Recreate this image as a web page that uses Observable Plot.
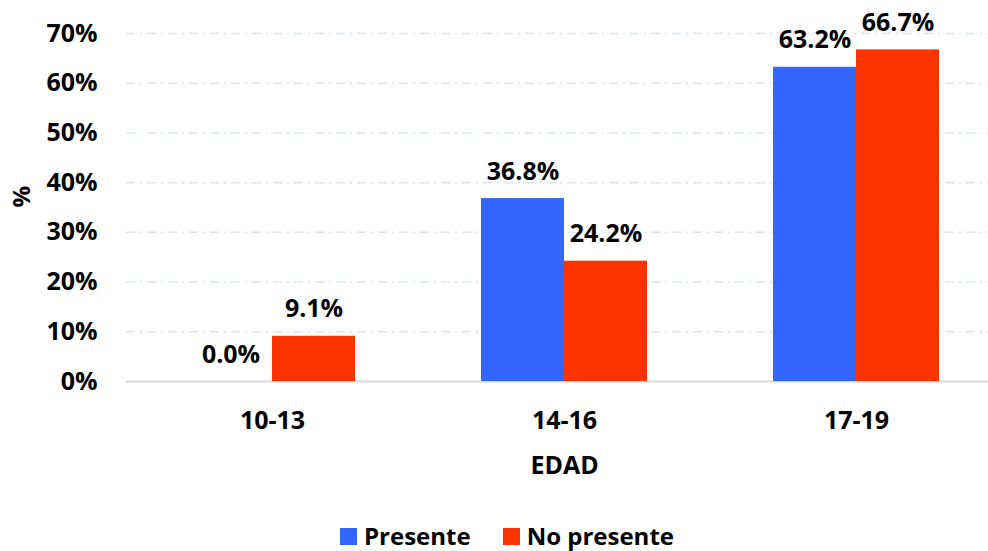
<!DOCTYPE html>
<html>
<head>
<meta charset="utf-8">
<script src="https://cdn.jsdelivr.net/npm/d3@7"></script>
<script src="https://cdn.jsdelivr.net/npm/@observablehq/plot@0.6"></script>
<style>
  body { margin: 0; background: #fff; font-family: "Open Sans", sans-serif; }
  #chart { width: 988px; height: 551px; position: relative; overflow: hidden; }
  #chart svg { position: absolute; left: 0; top: 0; background: transparent; }
  .legend { position: absolute; top: 521px; left: 340px; display: flex; align-items: center; font-weight: 700; font-size: 24px; color: #000; line-height: 30px; }
  .legend .sw { width: 17px; height: 17px; display: inline-block; margin-right: 7px; }
  .legend .item { display: flex; align-items: center; margin-right: 32px; }
</style>
</head>
<body>
<div id="chart"></div>
<script>
const categories = ["10-13", "14-16", "17-19"];
const series = ["Presente", "No presente"];
const presente = [0.0, 36.8, 63.2];
const noPresente = [9.1, 24.2, 66.7];
const yTicks = [0, 10, 20, 30, 40, 50, 60, 70];
const colors = ["#3366FF", "#FF3300"];

const data = [];
categories.forEach((c, i) => {
  data.push({edad: c, serie: series[0], value: presente[i]});
  data.push({edad: c, serie: series[1], value: noPresente[i]});
});

const font = "'Open Sans', sans-serif";
const common = {
  width: 988,
  height: 480,
  marginLeft: 126,
  marginRight: -14,
  marginTop: 33,
  marginBottom: 99,
  style: {fontFamily: font, overflow: "visible", background: "transparent"},
  y: {domain: [0, 70], axis: null}
};

// background layer: grid, baseline, axes text
const back = Plot.plot({
  ...common,
  x: {domain: categories, axis: null},
  marks: [
    Plot.ruleY(yTicks.filter(d => d > 0), {stroke: "#dce6f2", strokeWidth: 1.5, strokeDasharray: "9,5,2,5"}),
    Plot.ruleY([0], {stroke: "#d9d9d9", strokeWidth: 2}),
    Plot.text(yTicks, {y: d => d, frameAnchor: "left", dx: -29, textAnchor: "end", lineAnchor: "middle", text: d => d + "%", fontSize: 25, fontWeight: 700, fill: "#000"}),
    Plot.text(categories, {x: d => d, frameAnchor: "bottom", dy: 39, lineAnchor: "middle", text: d => d, fontSize: 25, fontWeight: 700, fill: "#000"}),
    Plot.text(["EDAD"], {x: () => categories[1], frameAnchor: "bottom", dy: 84, lineAnchor: "middle", text: d => d, fontSize: 25, fontWeight: 700, fill: "#000"}),
    Plot.text(["%"], {frameAnchor: "left", dx: -104, rotate: -90, lineAnchor: "middle", text: d => d, fontSize: 24, fontWeight: 700, fill: "#000"})
  ]
});

// front layer: grouped bars and value labels
const front = Plot.plot({
  ...common,
  fx: {domain: categories, paddingInner: 0.428, paddingOuter: 0.214, label: null, axis: null},
  x: {domain: series, padding: 0, axis: null},
  color: {domain: series, range: colors},
  marks: [
    Plot.barY(data, {fx: "edad", x: "serie", y: "value", fill: "serie"}),
    Plot.text(data, {fx: "edad", x: "serie", y: "value", text: d => d.value.toFixed(1) + "%", dy: -27, lineAnchor: "middle", fontSize: 25, fontWeight: 700, fill: "#000"})
  ]
});

const chart = document.getElementById("chart");
chart.appendChild(back);
chart.appendChild(front);
const legend = document.createElement("div");
legend.className = "legend";
series.forEach((s, i) => {
  const item = document.createElement("div");
  item.className = "item";
  item.innerHTML = `<span class="sw" style="background:${colors[i]}"></span><span>${s}</span>`;
  legend.appendChild(item);
});
chart.appendChild(legend);
</script>
</body>
</html>
